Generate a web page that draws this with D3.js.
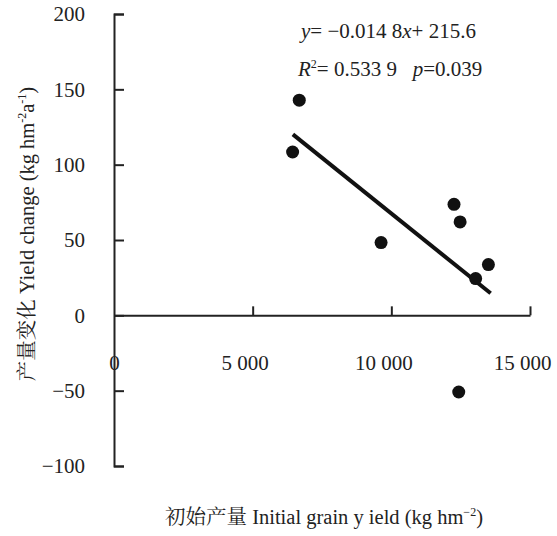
<!DOCTYPE html>
<html>
<head>
<meta charset="utf-8">
<script src="https://cdn.jsdelivr.net/npm/d3@7/dist/d3.min.js"></script>
</head>
<body style="margin:0; background:#fff">
<svg id="chart" width="557" height="536"></svg>
<script>
// datos
let initialYield = [6680, 6440, 9630, 12260, 12480, 13040, 13500, 12430]
let yieldChange = [142.8, 108.4, 48.3, 73.7, 62, 24.4, 33.7, -50.9]
let xTicks = [0, 5000, 10000, 15000]
let yTicks = [-100, -50, 0, 50, 100, 150, 200]
let fitRange = [6450, 13580]
let slope = -0.0148
let intercept = 215.6

let fontFam = '"Liberation Serif", "Noto Serif CJK SC", serif'

let svg = d3.select("#chart")

let xScale = d3.scaleLinear().domain([0, 15000]).range([114, 530])
let yScale = d3.scaleLinear().domain([-100, 200]).range([466, 14])

let fmt = d => d3.format(",")(d).replace(",", " ")

// eje y
let yAxis = d3.axisLeft(yScale)
    .tickValues(yTicks)
    .tickSizeInner(-10)
    .tickSizeOuter(-10)
    .tickPadding(29)
let yAxisGroup = svg.append("g")
    .attr("transform", "translate(114,0)")
    .call(yAxis)
yAxisGroup.selectAll("text").style("font-size", "21px")

// eje x en y = 0
let xAxis = d3.axisBottom(xScale)
    .tickValues(xTicks)
    .tickFormat(fmt)
    .tickSizeInner(-9)
    .tickSizeOuter(0)
    .tickPadding(40)
let xAxisGroup = svg.append("g")
    .attr("transform", `translate(0,${yScale(0)})`)
    .call(xAxis)
xAxisGroup.selectAll("text")
    .style("font-size", "21px")
    .attr("dx", d => d == 0 ? 0 : -8)
xAxisGroup.selectAll(".tick").filter(d => d == 0).select("line").remove()

svg.selectAll(".domain, .tick line")
    .attr("stroke", "#222")
    .attr("stroke-width", 2)

// linea de regresion
let fit = fitRange.map(x => [x, slope * x + intercept])
svg.append("path")
    .datum(fit)
    .attr("d", d3.line().x(d => xScale(d[0])).y(d => yScale(d[1])))
    .attr("stroke", "#111")
    .attr("stroke-width", 4)
    .attr("fill", "none")

// puntos
svg.selectAll("circle")
    .data(initialYield)
    .enter()
    .append("circle")
    .attr("cx", d => xScale(d))
    .attr("cy", (d, i) => yScale(yieldChange[i]))
    .attr("r", 6.5)
    .style("fill", "#111")

// ecuacion
let eq = svg.append("text")
    .attr("x", 301)
    .attr("y", 38)
    .style("font-size", "21px")
eq.append("tspan").style("font-style", "italic").text("y")
eq.append("tspan").text("= \u22120.014 8")
eq.append("tspan").style("font-style", "italic").text("x")
eq.append("tspan").text("+ 215.6")

let r2 = svg.append("text")
    .attr("x", 298)
    .attr("y", 76)
    .style("font-size", "21px")
r2.append("tspan").style("font-style", "italic").text("R")
r2.append("tspan").attr("dy", -8).style("font-size", "12px").text("2")
r2.append("tspan").attr("dy", 8).text("= 0.533 9\u00a0\u00a0\u00a0")
r2.append("tspan").style("font-style", "italic").text("p")
r2.append("tspan").text("=0.039")

// titulo eje x
let xt = svg.append("text")
    .attr("x", 324)
    .attr("y", 524)
    .attr("text-anchor", "middle")
    .style("font-size", "20.5px")
xt.append("tspan").text("初始产量 Initial grain y ield (kg hm")
xt.append("tspan").attr("dy", -8).style("font-size", "12px").text("\u22122")
xt.append("tspan").attr("dy", 8).text(")")

// titulo eje y
let yt = svg.append("text")
    .attr("transform", "translate(34,234) rotate(-90)")
    .attr("text-anchor", "middle")
    .style("font-size", "20.5px")
yt.append("tspan").text("产量变化 Yield change (kg hm")
yt.append("tspan").attr("dy", -8).style("font-size", "12px").text("-2")
yt.append("tspan").attr("dy", 8).text("a")
yt.append("tspan").attr("dy", -8).style("font-size", "12px").text("-1")
yt.append("tspan").attr("dy", 8).text(")")

svg.selectAll("text")
    .style("font-family", fontFam)
    .style("fill", "#222")
</script>
</body>
</html>
